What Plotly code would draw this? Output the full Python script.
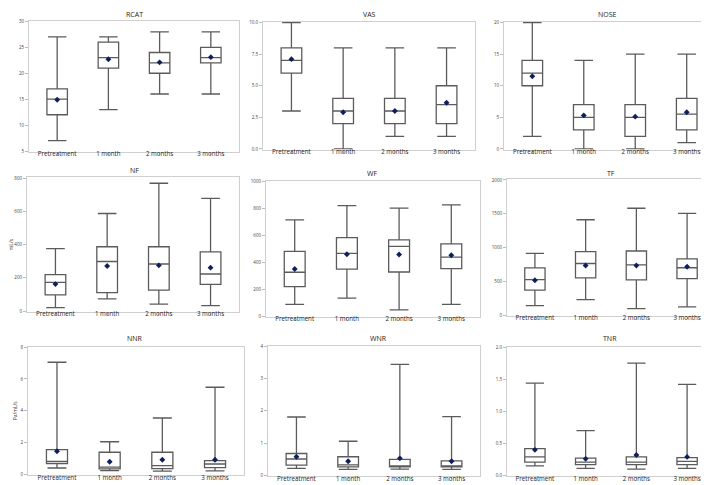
import plotly.graph_objects as go

categories = ["Pretreatment", "1 month", "2 months", "3 months"]

# ---- data ----
rcat_low = [7, 13, 16, 16]
rcat_q1 = [12, 21, 20, 22]
rcat_med = [15, 23, 22, 23]
rcat_q3 = [17, 26, 24, 25]
rcat_high = [27, 27, 28, 28]
rcat_mean = [14.9, 22.7, 22.1, 23.1]

vas_low = [3, 0, 1, 1]
vas_q1 = [6, 2, 2, 2]
vas_med = [7, 3, 3, 3.5]
vas_q3 = [8, 4, 4, 5]
vas_high = [10, 8, 8, 8]
vas_mean = [7.1, 2.9, 3.0, 3.65]

nose_low = [2, 0, 0, 1]
nose_q1 = [10, 3, 2, 3]
nose_med = [12, 5, 5, 5.5]
nose_q3 = [14, 7, 7, 8]
nose_high = [20, 14, 15, 15]
nose_mean = [11.5, 5.3, 5.1, 5.8]

nf_low = [20, 73, 42, 32]
nf_q1 = [97, 111, 126, 160]
nf_med = [172, 298, 283, 223]
nf_q3 = [219, 387, 387, 356]
nf_high = [375, 587, 769, 678]
nf_mean = [162, 271, 275, 261]

wf_low = [88, 134, 46, 88]
wf_q1 = [220, 351, 329, 354]
wf_med = [327, 468, 520, 439]
wf_q3 = [483, 585, 568, 539]
wf_high = [717, 824, 805, 829]
wf_mean = [351, 461, 459, 454]

tf_low = [141, 229, 97, 122]
tf_q1 = [370, 550, 521, 540]
tf_med = [525, 764, 745, 701]
tf_q3 = [700, 939, 949, 832]
tf_high = [915, 1411, 1581, 1504]
tf_mean = [516, 735, 735, 716]

nnr_low = [0.41, 0.25, 0.21, 0.23]
nnr_q1 = [0.68, 0.35, 0.37, 0.43]
nnr_med = [0.82, 0.47, 0.56, 0.66]
nnr_q3 = [1.57, 1.40, 1.40, 0.87]
nnr_high = [7.05, 2.06, 3.55, 5.48]
nnr_mean = [1.46, 0.80, 0.93, 0.93]

wnr_low = [0.22, 0.19, 0.20, 0.19]
wnr_q1 = [0.32, 0.27, 0.27, 0.27]
wnr_med = [0.51, 0.33, 0.30, 0.30]
wnr_q3 = [0.68, 0.58, 0.50, 0.45]
wnr_high = [1.81, 1.06, 3.44, 1.82]
wnr_mean = [0.58, 0.44, 0.53, 0.44]

tnr_low = [0.15, 0.11, 0.10, 0.11]
tnr_q1 = [0.21, 0.17, 0.17, 0.17]
tnr_med = [0.29, 0.21, 0.21, 0.22]
tnr_q3 = [0.42, 0.27, 0.29, 0.28]
tnr_high = [1.44, 0.70, 1.75, 1.42]
tnr_mean = [0.40, 0.26, 0.32, 0.29]

titles = ["RCAT", "VAS", "NOSE", "NF", "WF", "TF", "NNR", "WNR", "TNR"]
y_titles = ["", "", "", "mL/s", "", "", "Pa/mL/s", "", ""]
y_ticks = [
    [5, 10, 15, 20, 25, 30],
    [0, 2.5, 5, 7.5, 10],
    [0, 5, 10, 15, 20],
    [0, 200, 400, 600, 800],
    [0, 200, 400, 600, 800, 1000],
    [0, 500, 1000, 1500, 2000],
    [0, 2, 4, 6, 8],
    [0, 1, 2, 3, 4],
    [0, 0.5, 1.0, 1.5, 2.0],
]

stats = [
    (rcat_low, rcat_q1, rcat_med, rcat_q3, rcat_high, rcat_mean),
    (vas_low, vas_q1, vas_med, vas_q3, vas_high, vas_mean),
    (nose_low, nose_q1, nose_med, nose_q3, nose_high, nose_mean),
    (nf_low, nf_q1, nf_med, nf_q3, nf_high, nf_mean),
    (wf_low, wf_q1, wf_med, wf_q3, wf_high, wf_mean),
    (tf_low, tf_q1, tf_med, tf_q3, tf_high, tf_mean),
    (nnr_low, nnr_q1, nnr_med, nnr_q3, nnr_high, nnr_mean),
    (wnr_low, wnr_q1, wnr_med, wnr_q3, wnr_high, wnr_mean),
    (tnr_low, tnr_q1, tnr_med, tnr_q3, tnr_high, tnr_mean),
]

# ---- layout geometry (pixels) ----
W, H = 709, 485
frames = [  # x0, x1, y0(top), y1(bottom)
    (21, 231, 10, 142),
    (255, 467, 11, 140),
    (496, 707, 11, 140),
    (19, 231, 168, 304),
    (258, 472, 172, 309),
    (499, 707, 170, 308),
    (20, 236, 339, 469),
    (260, 472, 338, 470),
    (499, 707, 339, 470),
]
y_ranges = [
    (4.9, 30.1), (-0.05, 10.05), (-0.1, 20.1),
    (-5, 805), (-5, 1005), (-10, 2010),
    (-0.04, 8.04), (-0.02, 4.02), (-0.01, 2.01),
]
title_pos = [(126, 4), (361, 4), (599, 4), (126, 161), (364, 164), (603, 164),
             (127, 331), (370, 331), (602, 331)]
tick_fmt = ["", ".1f", "", "", "", "", "", "", ".1f"]

FONT = "Open Sans"
BOX_COLOR = "#5b5b5b"
MEAN_COLOR = "#0c1f5f"
FRAME_COLOR = "#cfcfcf"

fig = go.Figure()
layout = dict(
    width=W, height=H, margin=dict(l=0, r=0, t=0, b=0),
    paper_bgcolor="white", plot_bgcolor="white", showlegend=False,
    font=dict(family=FONT, color="#333"),
)
annotations = []

for i in range(9):
    low, q1, med, q3, high, mean = stats[i]
    ax = "" if i == 0 else str(i + 1)
    fig.add_trace(go.Box(
        x=categories, q1=q1, median=med, q3=q3, lowerfence=low, upperfence=high,
        width=0.4, whiskerwidth=0.9, boxpoints=False,
        fillcolor="white", line=dict(color=BOX_COLOR, width=1.3),
        xaxis="x" + ax, yaxis="y" + ax, hoverinfo="skip",
    ))
    fig.add_trace(go.Scatter(
        x=categories, y=mean, mode="markers",
        marker=dict(symbol="diamond", size=4.5, color=MEAN_COLOR),
        xaxis="x" + ax, yaxis="y" + ax, hoverinfo="skip",
    ))
    x0, x1, y0, y1 = frames[i]
    layout["xaxis" + ax] = dict(
        domain=[x0 / W, x1 / W], anchor="y" + ax, type="category",
        range=[-0.55, 3.55], showline=True, mirror=True, linecolor=FRAME_COLOR,
        linewidth=1, ticks="outside", ticklen=2, tickcolor="#bbbbbb",
        ticklabelstandoff=-6,
        showgrid=False, zeroline=False, fixedrange=True,
        tickfont=dict(size=6.2, color="#222", family=FONT),
    )
    yax = dict(
        domain=[1 - y1 / H, 1 - y0 / H], anchor="x" + ax,
        range=list(y_ranges[i]), tickvals=y_ticks[i], tickformat=tick_fmt[i],
        showline=True, mirror=True, linecolor=FRAME_COLOR, linewidth=1,
        ticks="outside", ticklen=3, tickcolor="#bbbbbb",
        showgrid=False, zeroline=False, fixedrange=True,
        tickfont=dict(size=4.5, color="#444", family=FONT),
    )
    if y_titles[i]:
        yax["title"] = dict(text=y_titles[i], font=dict(size=5, color="#444", family=FONT), standoff=2)
    layout["yaxis" + ax] = yax
    tx, ty = title_pos[i]
    annotations.append(dict(
        text=titles[i], x=tx / W, y=1 - ty / H, xref="paper", yref="paper",
        xanchor="center", yanchor="middle", showarrow=False,
        font=dict(size=7, color="#222", family=FONT),
    ))

layout["annotations"] = annotations
fig.update_layout(**layout)
fig.write_html("out.html")
